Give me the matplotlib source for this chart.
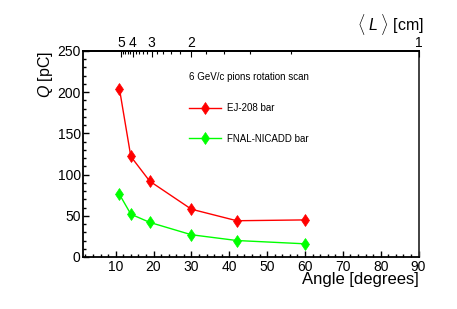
"""Charge vs. rotation angle for two scintillator bars (6 GeV/c pions)."""
import numpy as np
import matplotlib
matplotlib.use("Agg")
import matplotlib.pyplot as plt
from matplotlib.ticker import MultipleLocator

plt.rcParams["font.family"] = ["Liberation Sans", "DejaVu Sans"]
plt.rcParams["mathtext.fontset"] = "custom"
plt.rcParams["mathtext.rm"] = "Liberation Sans"
plt.rcParams["mathtext.it"] = "Liberation Sans:italic"

# data
angle = [11, 14, 19, 30, 42, 60]
q_ej208 = [204, 122, 92, 58, 44, 45]
q_nicadd = [76, 52, 42, 27, 20, 16]

# top axis: path length <L> = 1/sin(angle) in cm
L_major = [5, 4, 3, 2, 1]
L_minor = [4.8, 4.6, 4.4, 4.2, 3.8, 3.6, 3.4, 3.2,
           2.8, 2.6, 2.4, 2.2, 1.8, 1.6, 1.4, 1.2]


def L_to_angle(L):
    return np.degrees(np.arcsin(1.0 / np.asarray(L, dtype=float)))


fig = plt.figure(figsize=(4.57, 3.09), dpi=100)
ax = fig.add_axes([0.1827, 0.1683, 0.7331, 0.6667])

ax.plot(angle, q_ej208, color="#ff0000", lw=1.0, marker="d", ms=6,
        mew=0.5, label="EJ-208 bar")
ax.plot(angle, q_nicadd, color="#00ff00", lw=1.0, marker="d", ms=6,
        mew=0.5, label="FNAL-NICADD bar")

ax.set_xlim(1.5, 90)
ax.set_ylim(0, 250)
ax.xaxis.set_major_locator(MultipleLocator(10))
ax.xaxis.set_minor_locator(MultipleLocator(2))
ax.yaxis.set_major_locator(MultipleLocator(50))
ax.yaxis.set_minor_locator(MultipleLocator(10))
ax.tick_params(which="both", direction="in", top=False, right=False,
               labelsize=10, width=1.0, pad=2)
ax.tick_params(which="major", length=4)
ax.tick_params(which="minor", length=2)
ax.set_xticks([10, 20, 30, 40, 50, 60, 70, 80, 90])
for s in ax.spines.values():
    s.set_linewidth(1.3)
ax.spines["right"].set_color("#333333")

ax.set_xlabel("Angle [degrees]", fontsize=12, loc="right", labelpad=-1)
ax.set_ylabel(r"$Q$ [pC]", fontsize=11.5, loc="top", labelpad=2)

top = ax.twiny()
top.set_xlim(ax.get_xlim())
top.set_xticks(L_to_angle(L_major))
top.set_xticklabels([str(v) for v in L_major])
top.set_xticks(L_to_angle(L_minor), minor=True)
top.tick_params(which="both", direction="in", labelsize=10, width=0.8, pad=0.5)
top.tick_params(which="major", length=4)
top.tick_params(which="minor", length=2)
top.spines["top"].set_linewidth(1.3)
for side in ("left", "right", "bottom"):
    top.spines[side].set_visible(False)
top.set_xlabel(r"$\langle\;L\;\rangle$ [cm]", fontsize=11.5, loc="right",
               labelpad=-1)
top.xaxis.set_label_coords(1.015, 1.066)
top.xaxis.label.set_va("bottom")

leg = ax.legend(title="6 GeV/c pions rotation scan", loc="upper left",
                bbox_to_anchor=(0.302, 0.915), frameon=False, fontsize=7,
                title_fontsize=7, alignment="left", handlelength=3.3,
                handletextpad=0.7, labelspacing=2.1, borderaxespad=0)
leg._legend_box.sep = 15

fig.savefig("out.png", dpi=100, facecolor="white")
